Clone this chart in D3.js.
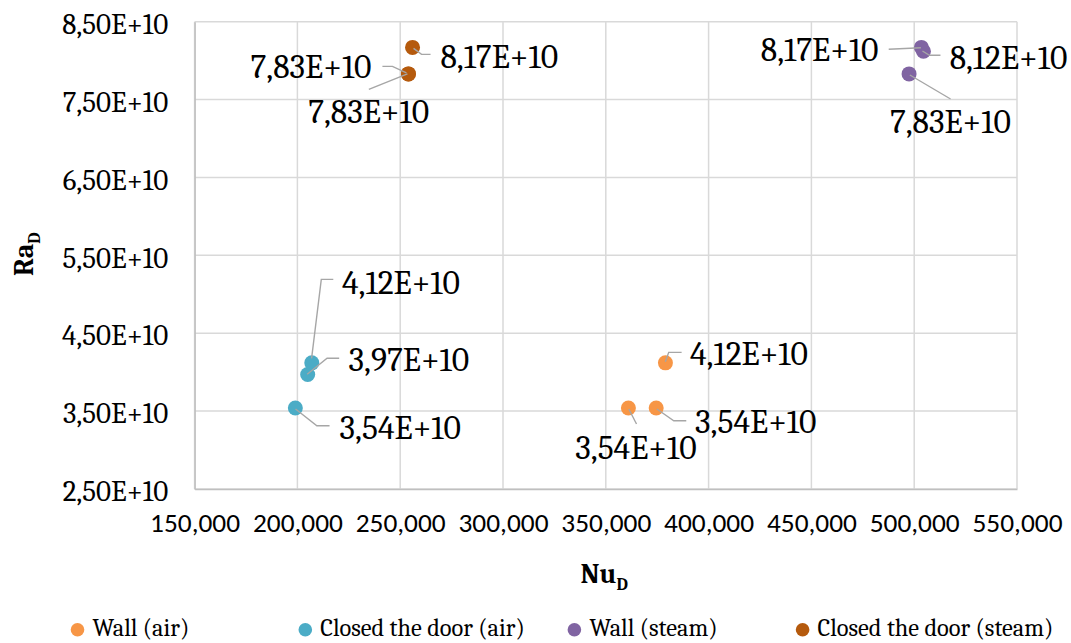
<!DOCTYPE html>
<html>
<head>
<meta charset="utf-8">
<script src="https://cdn.jsdelivr.net/npm/d3@7"></script>
<style>
  html, body { margin: 0; padding: 0; background: #fff; }
  svg { display: block; }
</style>
</head>
<body>
<svg id="chart" width="1071" height="643"></svg>
<script>
// ---------- data ----------
const seriesNames = ["Wall (air)", "Closed the door (air)", "Wall (steam)", "Closed the door (steam)"];
const seriesColors = ["#F79646", "#4BACC6", "#8064A2", "#B55A0D"];
const wallAirNu = [361000, 374500, 379000];
const wallAirRa = [3.54e10, 3.54e10, 4.12e10];
const doorAirNu = [199000, 205000, 207000];
const doorAirRa = [3.54e10, 3.97e10, 4.12e10];
const wallSteamNu = [497500, 503500, 504500];
const wallSteamRa = [7.83e10, 8.17e10, 8.12e10];
const doorSteamNu = [256000, 254000, 254000];
const doorSteamRa = [8.17e10, 7.83e10, 7.83e10];
const xTicks = [150000, 200000, 250000, 300000, 350000, 400000, 450000, 500000, 550000];
const yTicks = [2.5e10, 3.5e10, 4.5e10, 5.5e10, 6.5e10, 7.5e10, 8.5e10];

// label placement (pixel offsets from each point), layout only
const labelLayout = [
  [ // Wall (air)
    {dx: 7.5, dy: 39.3, anchor: "middle", leader: [[0.4,1],[8.1,16]]},
    {dx: 38.9, dy: 13.7, anchor: "start", leader: [[0.7,1],[17.6,12.7],[30.1,12.7]]},
    {dx: 24.6, dy: -8.8, anchor: "start", leader: [[-0.1,-1.1],[3.3,-10.5],[16.2,-10.5]]}
  ],
  [ // Closed the door (air)
    {dx: 44.2, dy: 19.3, anchor: "start", leader: [[0.2,1],[21.5,17.7],[34.2,17.7]]},
    {dx: 40.8, dy: -14.5, anchor: "start", leader: [[-0.5,-0.2],[19.4,-16.2],[31.5,-16.2]]},
    {dx: 30.2, dy: -80.1, anchor: "start", leader: [[-0.2,-4.5],[9.5,-83.5],[21.5,-83.5]]}
  ],
  [ // Wall (steam)
    {dx: 41.3, dy: 47.8, anchor: "middle", leader: [[0.8,1.1],[41.5,25.1]]},
    {dx: -42.9, dy: 2.6, anchor: "end", leader: [[-0.5,0.3],[-32.7,1.9]]},
    {dx: 26.2, dy: 6, anchor: "start", leader: [[-1,-0.3],[6,4],[17,4]]}
  ],
  [ // Closed the door (steam)
    {dx: 27.9, dy: 9.3, anchor: "start", leader: [[1,1],[9,7],[18,7]]},
    {dx: -36.9, dy: -6.9, anchor: "end", leader: [[-2,-1],[-16,-7.5],[-26,-7.5]]},
    {dx: -39.8, dy: 38.4, anchor: "middle", leader: [[-1,0],[-39.6,15.4]]}
  ]
];

const seriesNu = [wallAirNu, doorAirNu, wallSteamNu, doorSteamNu];
const seriesRa = [wallAirRa, doorAirRa, wallSteamRa, doorSteamRa];

// ---------- layout ----------
const plot = {left: 194.6, right: 1017, top: 21.7, bottom: 489};
const serif = "Caladea, 'Liberation Serif', serif";
const sans = "Carlito, Lato, sans-serif";

const svg = d3.select("#chart");

function fitSize(str, family, weight, target) {
  const t = svg.append("text").attr("font-family", family).attr("font-weight", weight)
    .attr("font-size", 100).text(str);
  const w = t.node().getComputedTextLength();
  t.remove();
  return 100 * target / w;
}
const fsY = fitSize("8,50E+10", serif, "normal", 106);
const fsLab = fitSize("4,12E+10", serif, "normal", 118);
const fsX = fitSize("150,000", sans, "normal", 90);
const fsLeg = fitSize("Closed the door (steam)", serif, "normal", 236);
const fsTitle = fitSize("Nu", serif, "bold", 36);

const x = d3.scaleLinear().domain([150000, 550000]).range([plot.left, plot.right]);
const y = d3.scaleLinear().domain([2.5e10, 8.5e10]).range([plot.bottom, plot.top]);

const fmtX = d3.format(",");
const fmtE = v => {
  const e = Math.floor(Math.log10(v));
  const m = v / Math.pow(10, e);
  return m.toFixed(2).replace(".", ",") + "E+" + e;
};

// gridlines
const grid = svg.append("g");
grid.selectAll("line.gx").data(xTicks).join("line")
  .attr("x1", d => x(d)).attr("x2", d => x(d))
  .attr("y1", plot.top).attr("y2", plot.bottom)
  .attr("stroke", "#d9d9d9").attr("stroke-width", 1.5);
grid.selectAll("line.gy").data(yTicks).join("line")
  .attr("x1", plot.left).attr("x2", plot.right)
  .attr("y1", d => y(d)).attr("y2", d => y(d))
  .attr("stroke", "#d9d9d9").attr("stroke-width", 1.5);

// axes
const xAxis = d3.axisBottom(x).tickValues(xTicks).tickFormat(fmtX).tickSize(0).tickPadding(0);
const gx = svg.append("g").attr("transform", `translate(0,${plot.bottom})`).call(xAxis);
gx.select(".domain").attr("stroke", "#bfbfbf").attr("stroke-width", 1.5);
gx.selectAll("text").attr("font-family", sans).attr("font-size", fsX).attr("fill", "#000")
  .attr("dy", null).attr("y", 522.7 - plot.bottom + 0.322 * fsX);

const yAxis = d3.axisLeft(y).tickValues(yTicks).tickFormat(fmtE).tickSize(0).tickPadding(0);
const gy = svg.append("g").attr("transform", `translate(${plot.left},0)`).call(yAxis);
gy.select(".domain").attr("stroke", "#bfbfbf").attr("stroke-width", 1.5);
gy.selectAll("text").attr("font-family", serif).attr("font-size", fsY).attr("fill", "#000")
  .attr("x", 168.3 - plot.left).attr("dy", 2 + 0.333 * fsY);

// axis titles
const xt = svg.append("text").attr("x", 580.5).attr("y", 583.3)
  .attr("font-family", serif).attr("font-weight", "bold").attr("font-size", fsTitle).attr("fill", "#000");
xt.append("tspan").text("Nu");
xt.append("tspan").attr("font-size", fsTitle * 0.62).attr("dy", 6.5).text("D");

const yt = svg.append("text").attr("transform", "translate(33.3,276) rotate(-90)")
  .attr("font-family", serif).attr("font-weight", "bold").attr("font-size", fsTitle).attr("fill", "#000");
yt.append("tspan").text("Ra");
yt.append("tspan").attr("font-size", fsTitle * 0.62).attr("dy", 6.5).text("D");

// points, leaders and labels
const points = [];
seriesNames.forEach((name, s) => {
  seriesNu[s].forEach((nu, i) => {
    points.push({s, nu, ra: seriesRa[s][i], lab: labelLayout[s][i]});
  });
});

const line = d3.line();
svg.append("g").selectAll("circle").data(points).join("circle")
  .attr("cx", d => x(d.nu)).attr("cy", d => y(d.ra)).attr("r", 7.5)
  .attr("fill", d => seriesColors[d.s]);

svg.append("g").selectAll("path").data(points).join("path")
  .attr("d", d => line(d.lab.leader.map(p => [x(d.nu) + p[0], y(d.ra) + p[1]])))
  .attr("fill", "none").attr("stroke", "#a6a6a6").attr("stroke-width", 1.4);

svg.append("g").selectAll("text").data(points).join("text")
  .attr("x", d => x(d.nu) + d.lab.dx).attr("y", d => y(d.ra) + d.lab.dy + 0.333 * fsLab)
  .attr("text-anchor", d => d.lab.anchor)
  .attr("font-family", serif).attr("font-size", fsLab).attr("fill", "#000")
  .text(d => fmtE(d.ra));

// legend
const legendX = [77.5, 305.3, 574.4, 802.6];
const lg = svg.append("g");
seriesNames.forEach((name, s) => {
  lg.append("circle").attr("cx", legendX[s]).attr("cy", 629.7).attr("r", 6.8).attr("fill", seriesColors[s]);
  lg.append("text").attr("x", legendX[s] + 15).attr("y", 628.2 + 0.333 * fsLeg)
    .attr("font-family", serif).attr("font-size", fsLeg).attr("fill", "#000").text(name);
});
</script>
</body>
</html>
